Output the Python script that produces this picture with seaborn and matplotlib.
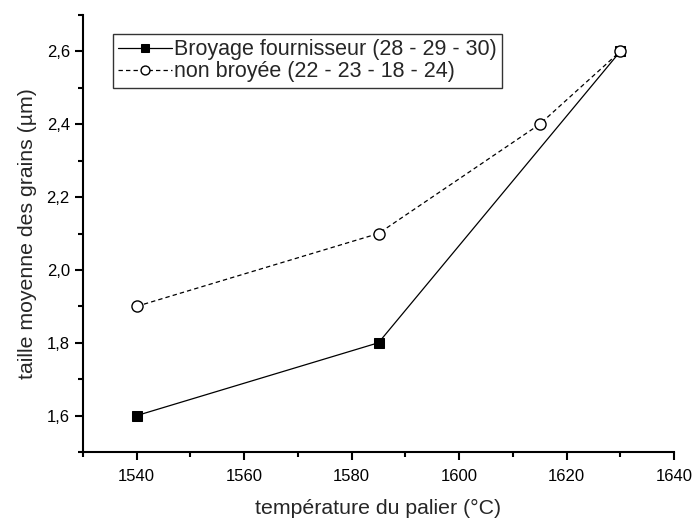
import matplotlib
matplotlib.use("Agg")
import matplotlib.pyplot as plt
import seaborn as sns
import pandas as pd
from matplotlib.ticker import MultipleLocator, FuncFormatter

# Mean grain size versus dwell temperature
temp_broyage = [1540, 1585, 1630]
taille_broyage = [1.6, 1.8, 2.6]
label_broyage = "Broyage fournisseur (28 - 29 - 30)"

temp_non_broyee = [1540, 1585, 1615, 1630]
taille_non_broyee = [1.9, 2.1, 2.4, 2.6]
label_non_broyee = "non broyée (22 - 23 - 18 - 24)"

x_ticks = [1540, 1560, 1580, 1600, 1620, 1640]
y_ticks = [1.6, 1.8, 2.0, 2.2, 2.4, 2.6]

sns.set_theme(style="ticks")
plt.rcParams["font.family"] = ["Liberation Sans", "DejaVu Sans"]

fig = plt.figure(figsize=(6.93, 5.18), dpi=100)
ax = fig.add_axes([83 / 693, 1 - 452 / 518, (674 - 83) / 693, (452 - 15) / 518])

df_b = pd.DataFrame({"T": temp_broyage, "d": taille_broyage})
df_n = pd.DataFrame({"T": temp_non_broyee, "d": taille_non_broyee})

sns.lineplot(data=df_b, x="T", y="d", ax=ax, color="black", linewidth=0.9,
             marker="s", markersize=7.3, markerfacecolor="black",
             markeredgecolor="black", label=label_broyage)
sns.lineplot(data=df_n, x="T", y="d", ax=ax, color="black", linewidth=0.9,
             linestyle=(0, (3.5, 2.5)), marker="o", markersize=8,
             markerfacecolor="white", markeredgecolor="black",
             markeredgewidth=1.0, label=label_non_broyee)

ax.set_xlim(1530, 1640)
ax.set_ylim(1.5, 2.7)
ax.set_xticks(x_ticks)
ax.set_yticks(y_ticks)
ax.xaxis.set_minor_locator(MultipleLocator(10))
ax.yaxis.set_minor_locator(MultipleLocator(0.1))
ax.yaxis.set_major_formatter(FuncFormatter(lambda v, p: f"{v:.1f}".replace(".", ",")))

for side in ("top", "right"):
    ax.spines[side].set_visible(False)
for side in ("left", "bottom"):
    ax.spines[side].set_linewidth(1.5)
    ax.spines[side].set_color("black")

ax.tick_params(which="major", direction="out", length=6, width=1.5,
               labelsize=12, colors="black")
ax.tick_params(which="minor", direction="out", length=3.6, width=1.5, colors="black")
ax.tick_params(axis="x", which="major", pad=6)
ax.tick_params(axis="y", which="major", pad=3.5)

ax.set_xlabel("température du palier (°C)", fontsize=15.3, labelpad=11)
ax.set_ylabel("taille moyenne des grains (µm)", fontsize=15.3, labelpad=7)

leg = ax.legend(loc="upper left", bbox_to_anchor=(30 / 591, 1 - 19 / 437),
                fontsize=15.5, frameon=True, fancybox=False, edgecolor="black",
                handlelength=2.5, handletextpad=0.1, borderpad=0.25,
                labelspacing=0.05, borderaxespad=0, markerscale=0.8)
leg.get_frame().set_linewidth(1.0)

fig.savefig("out.png", dpi=100, facecolor="white")
